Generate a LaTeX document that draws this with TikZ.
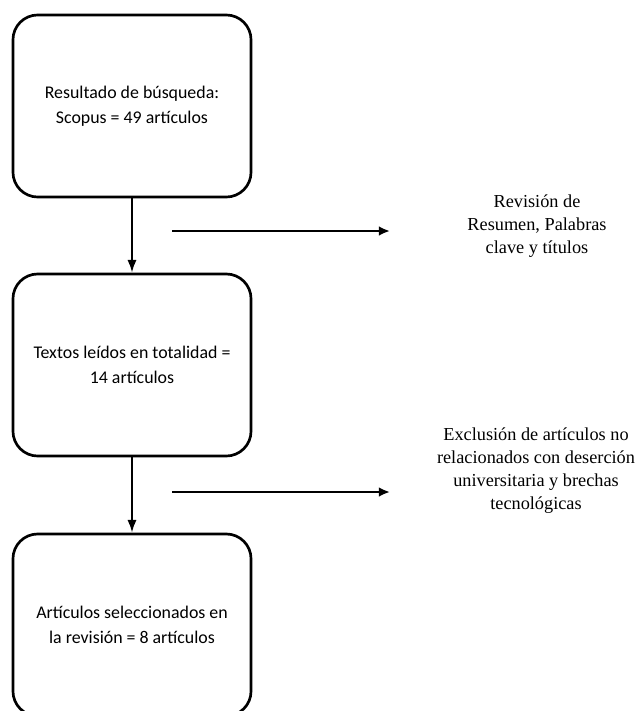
\documentclass[tikz,border=0pt]{standalone}
\usepackage{fontspec}
\setmainfont{Liberation Serif}
\newfontfamily\boxfont{Carlito}
\usetikzlibrary{arrows.meta}

\tikzset{
  stagebox/.style={draw,rounded corners=0.62cm,line width=1.9pt,minimum width=5.95cm,minimum height=4.55cm,align=center,font=\boxfont\fontsize{12.7}{17.8}\selectfont},
  note/.style={align=center,font=\fontsize{13}{16.4}\selectfont},
  down/.style={line width=1.4pt,-{Latex[length=9pt,width=6.5pt]}},
  side/.style={line width=2.1pt,-{Latex[length=8pt,width=7pt]}}
}

\begin{document}
\begin{tikzpicture}[x=0.025cm,y=-0.025cm]
    \useasboundingbox (0,0) rectangle (643,711);
    % boxes on the left
    \node[stagebox] (res) at (132,106) {Resultado de búsqueda:\\Scopus = 49 artículos};
    \node[stagebox] (tex) at (132,365) {Textos leídos en totalidad =\\14 artículos};
    \node[stagebox] (sel) at (132,625) {Artículos seleccionados en\\la revisión = 8 artículos};
    \draw[down] (res) -- (tex);
    \draw[down] (tex) -- (sel);
    % side notes
    \coordinate (a1) at (172,231);
    \coordinate (b1) at (390,231);
    \draw[side] (a1) -- (b1);
    \node[note] (rev) at (537,226) {Revisión de\\Resumen, Palabras\\clave y títulos};
    \coordinate (a2) at (172,492);
    \coordinate (b2) at (390,492);
    \draw[side] (a2) -- (b2);
    \node[note] (exc) at (536,471) {Exclusión de artículos no\\relacionados con deserción\\universitaria y brechas\\tecnológicas};
\end{tikzpicture}
\end{document}
